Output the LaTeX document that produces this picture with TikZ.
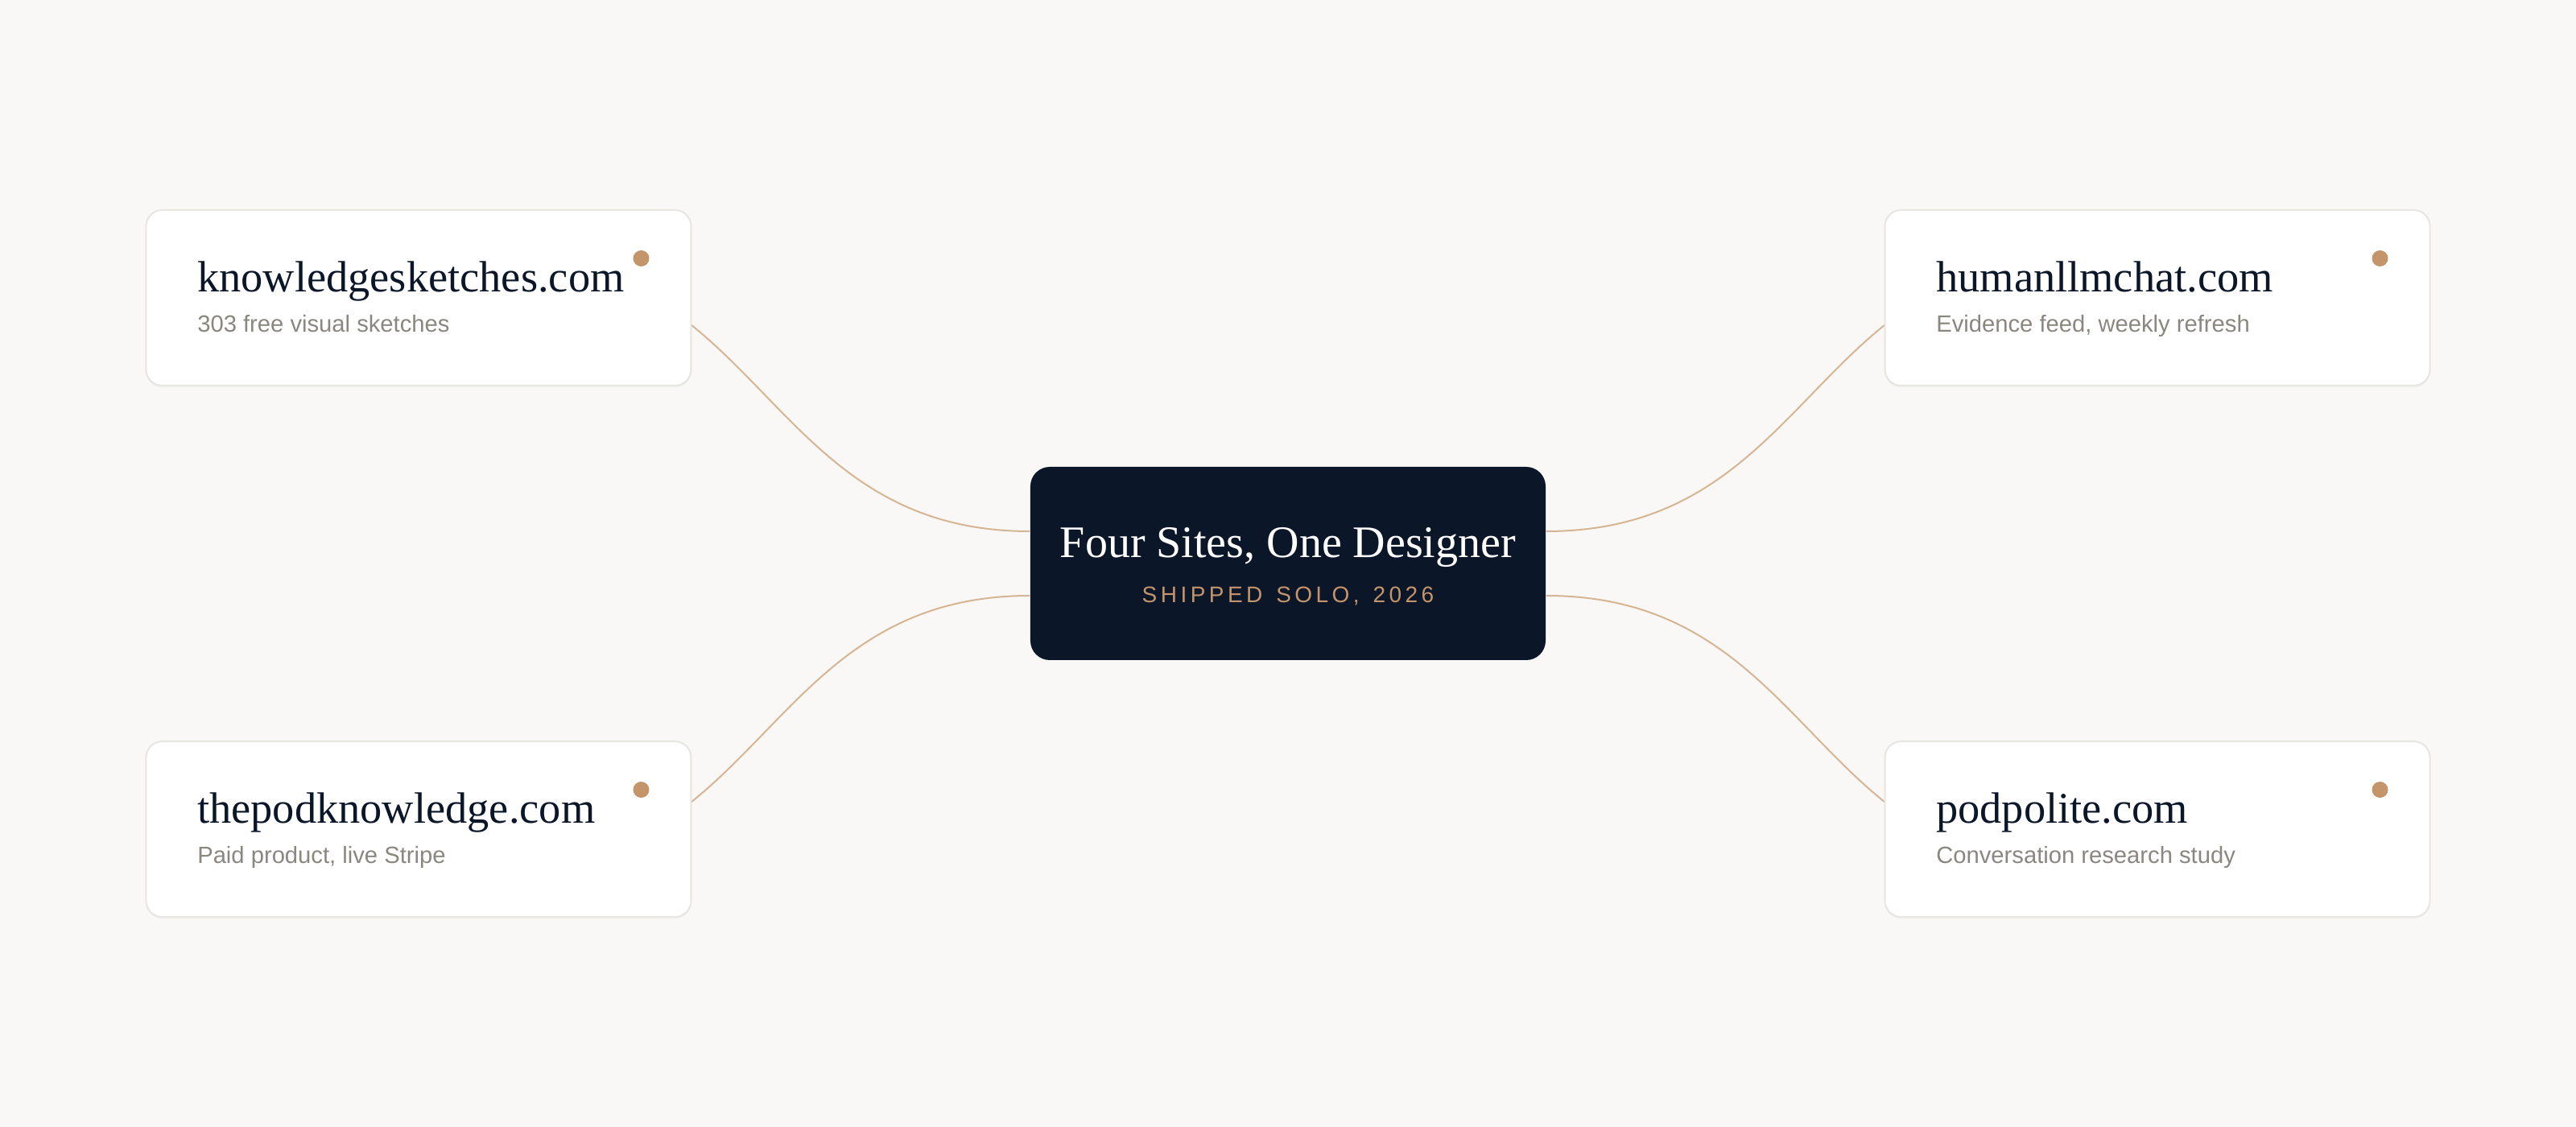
\documentclass[tikz,border=0pt]{standalone}
\usepackage{fontspec}
\setmainfont{Liberation Serif}
\setsansfont{Liberation Sans}
\newfontfamily\spacedsans[LetterSpace=16]{Liberation Sans}
\usetikzlibrary{shadows}

\definecolor{paper}{HTML}{F9F8F6}
\definecolor{ink}{HTML}{0B1628}
\definecolor{edge}{HTML}{E8E6E1}
\definecolor{tan}{HTML}{C4956A}
\definecolor{wire}{HTML}{D6B593}
\definecolor{muted}{HTML}{8A8780}
\pgfdeclarelayer{back}
\pgfsetlayers{back,main}

\begin{document}
\begin{tikzpicture}[node distance={270pt},
  site/.style = {draw=edge, line width=0.5pt, fill=white, rounded corners=5pt, minimum width=169.25pt, minimum height=54.5pt, drop shadow={shadow xshift=0pt, shadow yshift=-0.6pt, opacity=0.06}},
  hub/.style = {fill=ink, rounded corners=6pt, minimum width=160pt, minimum height=60pt},
  sitename/.style = {anchor=base west, inner sep=0pt, text=ink, font=\fontsize{13.6}{16}\selectfont},
  sitenote/.style = {anchor=base west, inner sep=0pt, text=muted, font=\sffamily\fontsize{7.3}{9}\selectfont},
  dot/.style = {circle, fill=tan, inner sep=0pt, minimum size=5pt},
  link/.style = {draw=wire, line width=0.5pt}]
\useasboundingbox (-400pt,-175pt) rectangle (400pt,175pt);
\begin{pgfonlayer}{back}
\fill[paper] (-400pt,-175pt) rectangle (400pt,175pt);
\end{pgfonlayer}
\node[hub] (0) at (0,0) {};
\node[site] (1) [left of=0, yshift=82.5pt] {};
\node[site] (2) [right of=0, yshift=82.5pt] {};
\node[site] (3) [left of=0, yshift=-82.5pt] {};
\node[site] (4) [right of=0, yshift=-82.5pt] {};
% hub text
\node[anchor=base, inner sep=0pt, text=white, font=\fontsize{14}{17}\selectfont] (h1) at ([yshift=1.75pt]0.center) {Four Sites, One Designer};
\node[anchor=base, inner sep=0pt, text=tan, font=\spacedsans\fontsize{7}{9}\selectfont] (h2) at ([yshift=-12.25pt]0.center) {SHIPPED\hspace{4.2pt}SOLO,\hspace{4.2pt}2026};
% site text
\node[sitename] (t1) at ([shift={(16pt,-25.75pt)}]1.north west) {knowledgesketches.com};
\node[sitenote] (s1) at ([shift={(16pt,-38.25pt)}]1.north west) {303 free visual sketches};
\node[sitename] (t2) at ([shift={(16pt,-25.75pt)}]2.north west) {humanllmchat.com};
\node[sitenote] (s2) at ([shift={(16pt,-38.25pt)}]2.north west) {Evidence feed, weekly refresh};
\node[sitename] (t3) at ([shift={(16pt,-25.75pt)}]3.north west) {thepodknowledge.com};
\node[sitenote] (s3) at ([shift={(16pt,-38.25pt)}]3.north west) {Paid product, live Stripe};
\node[sitename] (t4) at ([shift={(16pt,-25.75pt)}]4.north west) {podpolite.com};
\node[sitenote] (s4) at ([shift={(16pt,-38.25pt)}]4.north west) {Conversation research study};
\node[dot] (d1) at ([shift={(-15.75pt,-15.25pt)}]1.north east) {};
\node[dot] (d2) at ([shift={(-15.75pt,-15.25pt)}]2.north east) {};
\node[dot] (d3) at ([shift={(-15.75pt,-15.25pt)}]3.north east) {};
\node[dot] (d4) at ([shift={(-15.75pt,-15.25pt)}]4.north east) {};
% links, behind the cards
\begin{pgfonlayer}{back}
\draw[link] ([shift={(25pt,12.5pt)}]1.center) to[out=0, in=180, distance=82.5pt] ([yshift=10pt]0.west);
\draw[link] ([shift={(-25pt,12.5pt)}]2.center) to[out=180, in=0, distance=82.5pt] ([yshift=10pt]0.east);
\draw[link] ([shift={(25pt,-12.5pt)}]3.center) to[out=0, in=180, distance=82.5pt] ([yshift=-10pt]0.west);
\draw[link] ([shift={(-25pt,-12.5pt)}]4.center) to[out=180, in=0, distance=82.5pt] ([yshift=-10pt]0.east);
\end{pgfonlayer}
\end{tikzpicture}
\end{document}
